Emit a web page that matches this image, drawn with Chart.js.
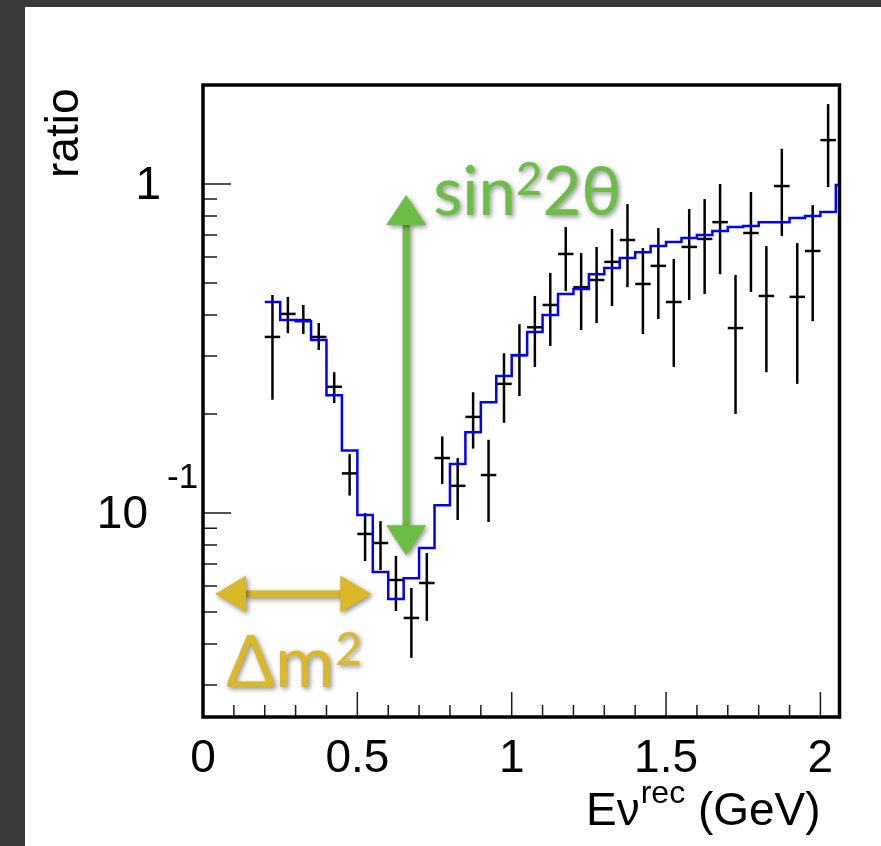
<!DOCTYPE html>
<html>
<head>
<meta charset="utf-8">
<script src="https://cdn.jsdelivr.net/npm/chart.js@4.4.1/dist/chart.umd.min.js"></script>
<style>
  html, body { margin: 0; padding: 0; background: #3a3a3c; }
  #wrap { position: relative; width: 881px; height: 846px; overflow: hidden; }
  #paper { position: absolute; left: 25px; top: 7px; right: 0; bottom: 0; background: #fff; }
  canvas { position: absolute; left: 0; top: 0; }
</style>
</head>
<body>
<div id="wrap"><div id="paper"></div><canvas id="ratioChart" width="881" height="846"></canvas></div>
<script>
// bin centres of the data (GeV)
const energy = [0.225, 0.275, 0.325, 0.375, 0.425, 0.475, 0.525, 0.575, 0.625, 0.675,
  0.725, 0.775, 0.825, 0.875, 0.925, 0.975, 1.025, 1.075, 1.125, 1.175,
  1.225, 1.275, 1.325, 1.375, 1.425, 1.475, 1.525, 1.575, 1.625, 1.675,
  1.725, 1.775, 1.825, 1.875, 1.925, 1.975, 2.025];
// measured ratio and its error bar ends
const ratio = [0.343, 0.403, 0.386, 0.343, 0.242, 0.132, 0.0864, 0.0811, 0.0626, 0.0480,
  0.0613, 0.147, 0.121, 0.196, 0.1305, 0.247, 0.302, 0.367, 0.429, 0.613,
  0.486, 0.511, 0.580, 0.676, 0.497, 0.564, 0.438, 0.644, 0.681, 0.766,
  0.365, 0.710, 0.457, 0.986, 0.454, 0.626, 1.36];
const errHigh = [0.460, 0.454, 0.429, 0.378, 0.268, 0.151, 0.100, 0.0945, 0.0740, 0.0592,
  0.0756, 0.171, 0.147, 0.233, 0.167, 0.306, 0.375, 0.457, 0.537, 0.740,
  0.617, 0.644, 0.730, 0.869, 0.639, 0.735, 0.592, 0.839, 0.900, 1.00,
  0.529, 0.946, 0.648, 1.28, 0.662, 0.863, 1.75];
const errLow = [0.221, 0.352, 0.350, 0.313, 0.216, 0.113, 0.0715, 0.0671, 0.0504, 0.0363,
  0.0470, 0.1225, 0.0953, 0.157, 0.094, 0.188, 0.227, 0.278, 0.322, 0.473,
  0.360, 0.378, 0.426, 0.486, 0.350, 0.389, 0.278, 0.444, 0.463, 0.532,
  0.200, 0.470, 0.268, 0.695, 0.247, 0.383, 0.979];

// oscillation prediction histogram: bin edges and contents
const predEdges = [0.20, 0.25, 0.30, 0.35, 0.40, 0.45, 0.50, 0.55, 0.60, 0.65,
  0.70, 0.75, 0.80, 0.85, 0.90, 0.95, 1.00, 1.05, 1.10, 1.15,
  1.20, 1.25, 1.30, 1.35, 1.40, 1.45, 1.50, 1.55, 1.60, 1.65,
  1.70, 1.75, 1.80, 1.85, 1.90, 1.95, 2.00, 2.05, 2.10];
const prediction = [0.438, 0.386, 0.383, 0.336, 0.228, 0.155, 0.0986, 0.0662, 0.0548, 0.0634,
  0.0783, 0.1057, 0.141, 0.176, 0.217, 0.261, 0.302, 0.355, 0.400, 0.463,
  0.480, 0.532, 0.556, 0.596, 0.621, 0.648, 0.667, 0.685, 0.700, 0.720,
  0.740, 0.745, 0.766, 0.766, 0.788, 0.799, 0.822, 0.993];

// axis ticks
const xMajor = [0, 0.5, 1, 1.5, 2];
const xLabels = ['0', '0.5', '1', '1.5', '2'];
const xMinor = [0.1, 0.2, 0.3, 0.4, 0.6, 0.7, 0.8, 0.9, 1.1, 1.2, 1.3, 1.4, 1.6, 1.7, 1.8, 1.9];
const yMajor = [0.1, 1];
const yMinor = [0.03, 0.04, 0.05, 0.06, 0.07, 0.08, 0.09, 0.2, 0.3, 0.4, 0.5, 0.6, 0.7, 0.8, 0.9];

const FONT = '"Liberation Sans", Arial, Helvetica, sans-serif';
const ANNO_FONT = 'Lato, "Open Sans", sans-serif';
const GREEN = '#6cbd45';
const GOLD = '#dab828';

function shadowOn(ctx) {
  ctx.shadowColor = 'rgba(0,0,0,0.45)';
  ctx.shadowBlur = 5;
  ctx.shadowOffsetX = 2;
  ctx.shadowOffsetY = 2;
}

// double headed arrow between two pixel points
function doubleArrow(ctx, x1, y1, x2, y2, headLen, headW, shaftW, color) {
  const ang = Math.atan2(y2 - y1, x2 - x1);
  const len = Math.hypot(x2 - x1, y2 - y1);
  ctx.save();
  ctx.translate(x1, y1);
  ctx.rotate(ang);
  shadowOn(ctx);
  ctx.fillStyle = color;
  ctx.fillRect(headLen - 1, -shaftW / 2, len - 2 * headLen + 2, shaftW);
  ctx.beginPath();
  ctx.moveTo(0, 0);
  ctx.lineTo(headLen, -headW / 2);
  ctx.lineTo(headLen, headW / 2);
  ctx.closePath();
  ctx.moveTo(len, 0);
  ctx.lineTo(len - headLen, -headW / 2);
  ctx.lineTo(len - headLen, headW / 2);
  ctx.closePath();
  ctx.fill();
  ctx.restore();
}

const rootStyle = {
  id: 'rootStyle',
  beforeDatasetsDraw(chart) {
    const { ctx, scales: { x, y } } = chart;
    ctx.save();
    ctx.strokeStyle = '#000';
    ctx.lineWidth = 2.5;
    energy.forEach((e, i) => {
      const px = x.getPixelForValue(e);
      ctx.beginPath();
      ctx.moveTo(px, y.getPixelForValue(errHigh[i]));
      ctx.lineTo(px, y.getPixelForValue(errLow[i]));
      ctx.stroke();
    });
    ctx.restore();
  },
  afterDraw(chart) {
    const { ctx, chartArea: a, scales: { x, y } } = chart;
    ctx.save();

    // ticks
    ctx.strokeStyle = '#1a1a1a';
    ctx.lineWidth = 1.5;
    ctx.beginPath();
    xMajor.forEach(v => { const p = x.getPixelForValue(v); ctx.moveTo(p, a.bottom); ctx.lineTo(p, a.bottom - 25); });
    xMinor.forEach(v => { const p = x.getPixelForValue(v); ctx.moveTo(p, a.bottom); ctx.lineTo(p, a.bottom - 12); });
    yMajor.forEach(v => { const p = y.getPixelForValue(v); ctx.moveTo(a.left, p); ctx.lineTo(a.left + 28, p); });
    yMinor.forEach(v => { const p = y.getPixelForValue(v); ctx.moveTo(a.left, p); ctx.lineTo(a.left + 14, p); });
    ctx.stroke();

    // frame (right side sits just outside the plotting area)
    ctx.strokeStyle = '#000';
    ctx.lineWidth = 3.5;
    ctx.beginPath();
    ctx.moveTo(a.left, a.bottom);
    ctx.lineTo(a.left, a.top);
    ctx.lineTo(a.right + 1.5, a.top);
    ctx.lineTo(a.right + 1.5, a.bottom);
    ctx.closePath();
    ctx.stroke();

    // tick labels
    ctx.fillStyle = '#000';
    ctx.font = '46px ' + FONT;
    ctx.textAlign = 'center';
    ctx.textBaseline = 'alphabetic';
    xMajor.forEach((v, i) => ctx.fillText(xLabels[i], x.getPixelForValue(v), 772));
    ctx.textAlign = 'right';
    ctx.textBaseline = 'middle';
    ctx.fillText('1', 161, y.getPixelForValue(1) + 2);
    ctx.fillText('10', 148, y.getPixelForValue(0.1) + 2);
    ctx.font = '35px ' + FONT;
    ctx.textAlign = 'left';
    ctx.textBaseline = 'alphabetic';
    ctx.fillText('-1', 167, 488);

    // axis titles
    ctx.font = '46px ' + FONT;
    ctx.save();
    ctx.translate(78, 178);
    ctx.rotate(-Math.PI / 2);
    ctx.fillText('ratio', 0, 0);
    ctx.restore();

    let tx = 586;
    ctx.fillText('E\u03bd', tx, 825);
    tx += ctx.measureText('E\u03bd').width + 1;
    ctx.font = '32px ' + FONT;
    ctx.fillText('rec', tx, 803);
    tx += ctx.measureText('rec').width;
    ctx.font = '46px ' + FONT;
    ctx.fillText(' (GeV)', tx, 825);

    // annotations
    const gx = x.getPixelForValue(0.658);
    doubleArrow(ctx, gx, y.getPixelForValue(0.926), gx, y.getPixelForValue(0.0744), 30, 40, 7, GREEN);
    const gy = y.getPixelForValue(0.0568);
    doubleArrow(ctx, x.getPixelForValue(0.039), gy, x.getPixelForValue(0.545), gy, 31, 37, 7, GOLD);

    ctx.save();
    shadowOn(ctx);
    ctx.fillStyle = GREEN;
    let sx = x.getPixelForValue(0.746);
    const sy = y.getPixelForValue(0.805);
    ctx.font = '67px ' + ANNO_FONT;
    ctx.fillText('sin', sx, sy);
    sx += ctx.measureText('sin').width;
    ctx.font = '46px ' + ANNO_FONT;
    ctx.fillText('2', sx, sy - 20);
    sx += ctx.measureText('2').width;
    ctx.font = '67px ' + ANNO_FONT;
    ctx.fillText('2\u03b8', sx, sy);

    ctx.fillStyle = GOLD;
    let dx = x.getPixelForValue(0.075);
    const dy = y.getPixelForValue(0.0296);
    ctx.font = '72px ' + ANNO_FONT;
    ctx.fillText('\u0394m', dx, dy);
    dx += ctx.measureText('\u0394m').width + 1;
    ctx.font = '46px ' + ANNO_FONT;
    ctx.fillText('2', dx, dy - 22);
    ctx.restore();

    ctx.restore();
  }
};

new Chart(document.getElementById('ratioChart'), {
  type: 'scatter',
  data: {
    datasets: [{
      type: 'line',
      label: 'prediction',
      data: predEdges.map((e, i) => ({ x: e, y: prediction[Math.min(i, prediction.length - 1)] })),
      stepped: true,
      borderColor: '#0000ff',
      borderWidth: 2.5,
      pointRadius: 0,
      fill: false,
      order: 0
    }, {
      label: 'data',
      data: energy.map((e, i) => ({ x: e, y: ratio[i] })),
      pointStyle: 'line',
      pointRadius: 7.75,
      borderColor: '#000',
      backgroundColor: '#000',
      borderWidth: 2.5,
      order: 1
    }]
  },
  options: {
    responsive: false,
    animation: false,
    devicePixelRatio: 1,
    layout: { padding: { left: 203, right: 43, top: 85, bottom: 129 } },
    plugins: { legend: { display: false }, tooltip: { enabled: false } },
    scales: {
      x: { type: 'linear', min: 0, max: 2.057, display: false },
      y: { type: 'logarithmic', min: 0.024, max: 2, display: false }
    }
  },
  plugins: [rootStyle]
});
</script>
</body>
</html>
